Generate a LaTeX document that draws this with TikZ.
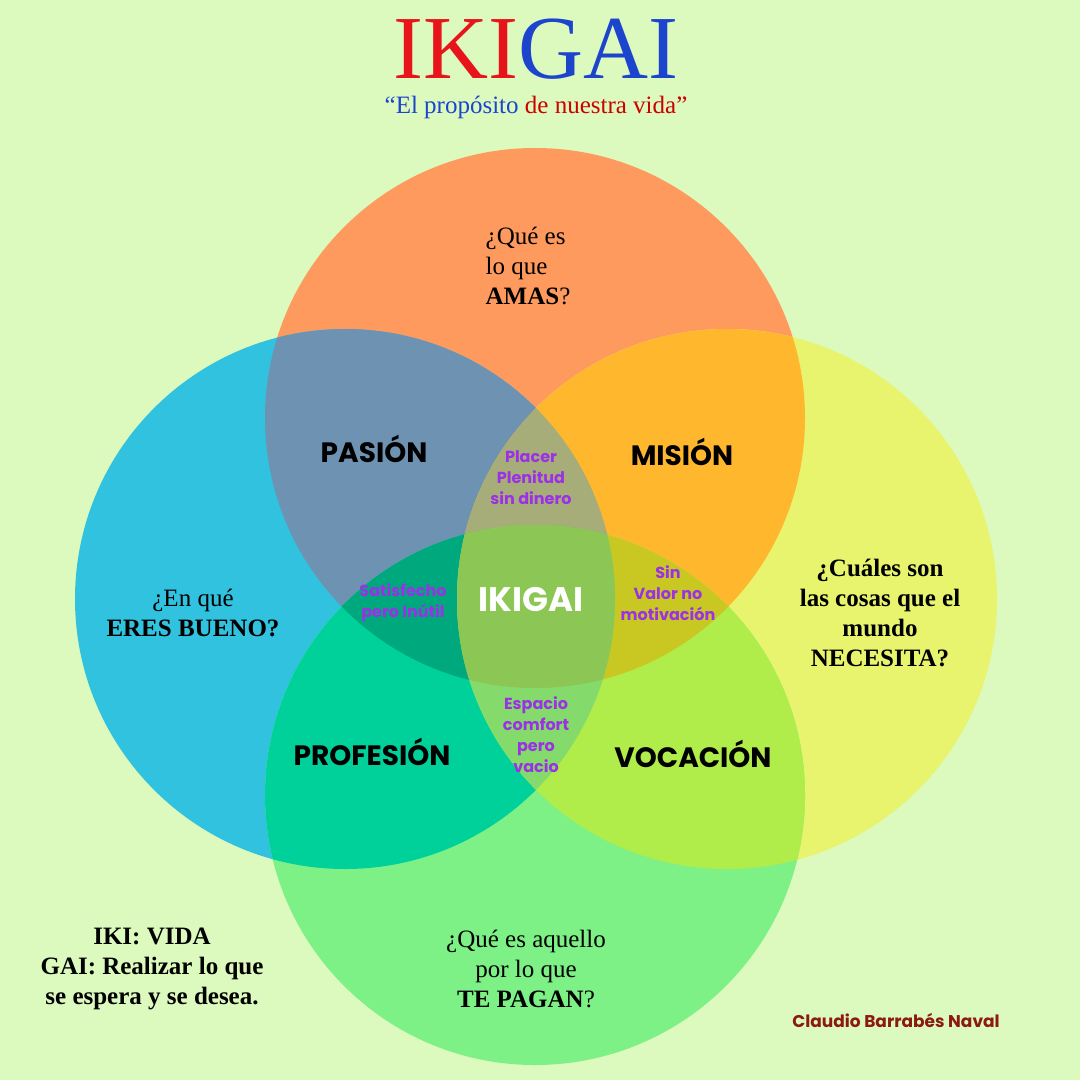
\documentclass[tikz,border=0pt]{standalone}
\usepackage{fontspec}
\setmainfont{Liberation Serif}
\newfontfamily\geo{Poppins}
\usepackage{tikz}

\definecolor{fondo}{HTML}{DCF9BE}
\definecolor{amas}{HTML}{FF9A5E}
\definecolor{bueno}{HTML}{30C2DE}
\definecolor{necesita}{HTML}{E8F36E}
\definecolor{pagan}{HTML}{7DF186}
\definecolor{pasion}{HTML}{6E93B2}
\definecolor{mision}{HTML}{FFB82E}
\definecolor{profesion}{HTML}{00D19B}
\definecolor{vocacion}{HTML}{B0EC4A}
\definecolor{placer}{HTML}{A6AD78}
\definecolor{satisf}{HTML}{00A87E}
\definecolor{sinvalor}{HTML}{C9C722}
\definecolor{espacio}{HTML}{84DA6A}
\definecolor{centro}{HTML}{8CC654}
\definecolor{morado}{HTML}{9B30E6}
\definecolor{rojo}{HTML}{E8141C}
\definecolor{azul}{HTML}{1C44CC}
\definecolor{firma}{HTML}{8B1A10}

\newcommand{\cAmas}{(535,418) circle (135pt)}
\newcommand{\cBueno}{(345,599) circle (135pt)}
\newcommand{\cNecesita}{(727,599) circle (135pt)}
\newcommand{\cPagan}{(535,795) circle (135pt)}

\tikzset{
  pregunta/.style={align=center, font=\fontsize{12.5}{15}\selectfont},
  zona/.style={font=\geo\bfseries\fontsize{14}{16}\selectfont},
  cruce/.style={align=center, text=morado, font=\geo\bfseries\fontsize{8}{10.5}\selectfont},
}

\begin{document}
\begin{tikzpicture}[x=0.5pt,y=-0.5pt]

\fill[fondo] (0,0) rectangle (1080,1080);
\useasboundingbox (0,0) rectangle (1080,1080);

% los cuatro circulos
\fill[amas] \cAmas;
\fill[bueno] \cBueno;
\fill[necesita] \cNecesita;
\fill[pagan] \cPagan;

% dos a dos
\begin{scope} \clip \cAmas; \fill[pasion] \cBueno; \end{scope}
\begin{scope} \clip \cAmas; \fill[mision] \cNecesita; \end{scope}
\begin{scope} \clip \cBueno; \fill[profesion] \cPagan; \end{scope}
\begin{scope} \clip \cNecesita; \fill[vocacion] \cPagan; \end{scope}

% tres a tres
\begin{scope} \clip \cAmas; \clip \cBueno; \fill[placer] \cNecesita; \end{scope}
\begin{scope} \clip \cAmas; \clip \cBueno; \fill[satisf] \cPagan; \end{scope}
\begin{scope} \clip \cAmas; \clip \cNecesita; \fill[sinvalor] \cPagan; \end{scope}
\begin{scope} \clip \cBueno; \clip \cNecesita; \fill[espacio] \cPagan; \end{scope}

% los cuatro
\begin{scope} \clip \cAmas; \clip \cBueno; \clip \cNecesita; \fill[centro] \cPagan; \end{scope}


\node[inner sep=0pt] (titulo) at (536,49) {\fontsize{45}{48}\selectfont\textcolor{rojo}{IKI}\textcolor{azul}{GAI}};
\node[inner sep=0pt] (lema) at (536,107) {\fontsize{12.5}{14}\selectfont\textcolor{azul}{“El propósito} \textcolor{red!80!black}{de nuestra vida”}};

\node[pregunta, align=left] (qamas) at (528,266) {¿Qué es\\ lo que\\ \textbf{AMAS}?};
\node[pregunta] (qbueno) at (193,613) {¿En qué\\ \textbf{ERES BUENO?}};
\node[pregunta, font=\bfseries\fontsize{12.5}{15}\selectfont] (qnecesita) at (880,613) {¿Cuáles son\\ las cosas que el\\ mundo\\ NECESITA?};
\node[pregunta] (qpagan) at (526,969) {¿Qué es aquello\\ por lo que\\ \textbf{TE PAGAN}?};

\node[zona] (pasion) at (374,449) {PASIÓN};
\node[zona] (mision) at (682,452) {MISIÓN};
\node[zona] (profesion) at (372,752) {PROFESIÓN};
\node[zona] (vocacion) at (693,754) {VOCACIÓN};
\node[zona, text=white, font=\geo\bfseries\fontsize{17}{18}\selectfont] (ikigai) at (531,600) {IKIGAI};

\node[cruce] (placer) at (531,478) {Placer\\ Plenitud\\ sin dinero};
\node[cruce] (satisf) at (403,603) {Satisfecho\\ pero Inútil};
\node[cruce] (sinvalor) at (668,593) {Sin\\ Valor no\\ motivación};
\node[cruce] (espacio) at (536,735) {Espacio\\ comfort\\ pero\\ vacio};

\node[pregunta, font=\bfseries\fontsize{12.5}{15}\selectfont] (iki) at (152,969) {IKI: VIDA\\ GAI: Realizar lo que\\ se espera y se desea.};
\node[text=firma, font=\geo\bfseries\fontsize{8.5}{10}\selectfont] (autor) at (896,1020) {Claudio Barrabés Naval};

\end{tikzpicture}
\end{document}
